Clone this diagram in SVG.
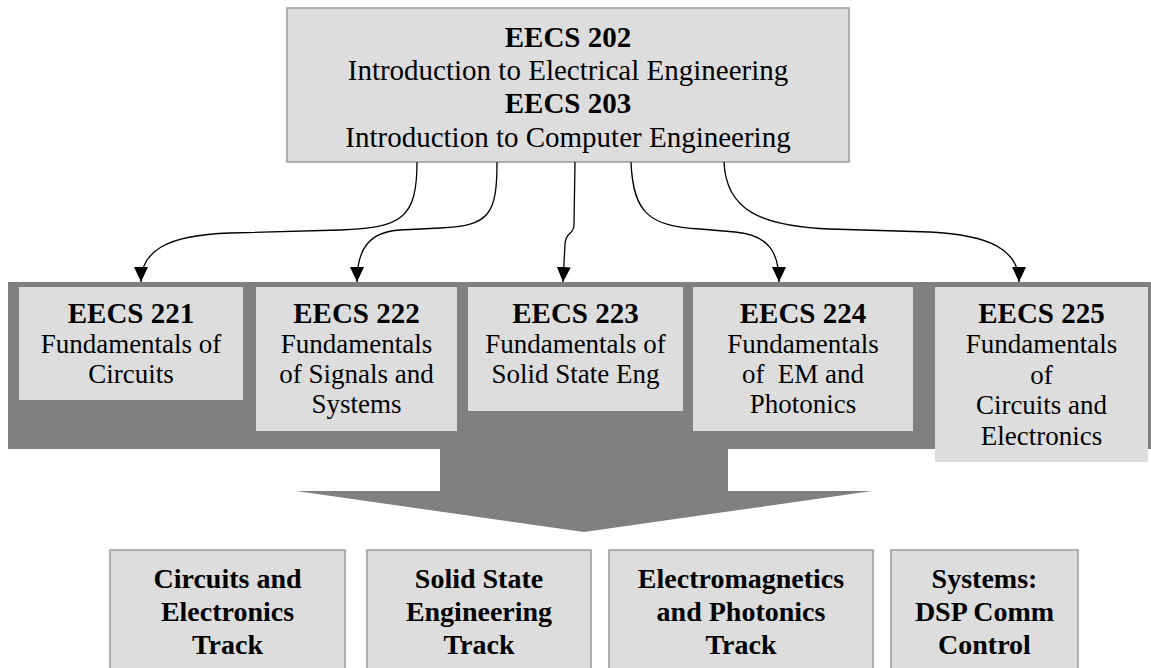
<svg xmlns="http://www.w3.org/2000/svg" width="1151" height="668" viewBox="0 0 1151 668">
<style>
  .box { fill: #dddddd; }
  .bordered { fill: #dddddd; stroke: #999999; stroke-width: 1.5; }
  .band { fill: #808080; }
  text { font-family: 'Liberation Serif', Tinos, 'Times New Roman', Times, 'DejaVu Serif', serif; fill: #000; text-anchor: middle; }
  .t { font-size: 29px; }
  .tb { font-size: 29px; font-weight: bold; }
  .s { font-size: 27px; }
  .sb { font-size: 29px; font-weight: bold; }
  .k { font-size: 28px; font-weight: bold; }
  .conn { fill: none; stroke: #000; stroke-width: 1.3; }
</style>
<defs>
  <marker id="ah" markerUnits="userSpaceOnUse" markerWidth="16" markerHeight="15" refX="15" refY="7" orient="auto">
    <path d="M0,0 L15,7 L0,14 z" fill="#000"/>
  </marker>
</defs>
<rect width="1151" height="668" fill="#ffffff"/>

<g id="band">
  <rect class="band" x="8" y="282" width="1143" height="167"/>
  <polygon class="band" points="440,448 728,448 728,491 872,491 584,532 296,491 440,491"/>
</g>

<g id="eecs202">
  <rect class="bordered" x="287" y="8" width="562" height="154"/>
  <text class="tb" x="568" y="47">EECS 202</text>
  <text class="t" x="568" y="80">Introduction to Electrical Engineering</text>
  <text class="tb" x="568" y="113">EECS 203</text>
  <text class="t" x="568" y="147">Introduction to Computer Engineering</text>
</g>

<g id="eecs221">
  <rect class="box" x="19" y="287" width="224" height="113"/>
  <text class="sb" x="131" y="323">EECS 221</text>
  <text class="s" x="131" y="353">Fundamentals of</text>
  <text class="s" x="131" y="383">Circuits</text>
</g>

<g id="eecs222">
  <rect class="box" x="256" y="287" width="201" height="144"/>
  <text class="sb" x="356.5" y="323">EECS 222</text>
  <text class="s" x="356.5" y="353">Fundamentals</text>
  <text class="s" x="356.5" y="383">of Signals and</text>
  <text class="s" x="356.5" y="413">Systems</text>
</g>

<g id="eecs223">
  <rect class="box" x="468" y="287" width="215" height="124"/>
  <text class="sb" x="575.5" y="323">EECS 223</text>
  <text class="s" x="575.5" y="353">Fundamentals of</text>
  <text class="s" x="575.5" y="383">Solid State Eng</text>
</g>

<g id="eecs224">
  <rect class="box" x="693" y="287" width="220" height="144"/>
  <text class="sb" x="803" y="323">EECS 224</text>
  <text class="s" x="803" y="353">Fundamentals</text>
  <text class="s" x="803" y="383">of&#160; EM and</text>
  <text class="s" x="803" y="413">Photonics</text>
</g>

<g id="eecs225">
  <rect class="box" x="935" y="287" width="213" height="175"/>
  <text class="sb" x="1041.5" y="323">EECS 225</text>
  <text class="s" x="1041.5" y="353">Fundamentals</text>
  <text class="s" x="1041.5" y="384">of</text>
  <text class="s" x="1041.5" y="414">Circuits and</text>
  <text class="s" x="1041.5" y="445">Electronics</text>
</g>

<g id="connectors">
  <path class="conn" marker-end="url(#ah)" d="M417,162 C417,218 402,228 340,230 L230,233 C165,235 141,252 141,282"/>
  <path class="conn" marker-end="url(#ah)" d="M497,162 C497,214 490,226 440,228 L400,230 C368,232 357,250 357,282"/>
  <path class="conn" marker-end="url(#ah)" d="M575,162 L574,224 C574,236 566,230 565,244 L563,282"/>
  <path class="conn" marker-end="url(#ah)" d="M631,162 C633,214 650,226 700,229 L735,232 C770,235 779,254 779,282"/>
  <path class="conn" marker-end="url(#ah)" d="M724,162 C726,210 760,226 830,229 L930,232 C990,235 1019,250 1019,282"/>
</g>

<g id="track-circuits">
  <rect class="bordered" x="110" y="550" width="235" height="130"/>
  <text class="k" x="227.5" y="588">Circuits and</text>
  <text class="k" x="227.5" y="621">Electronics</text>
  <text class="k" x="227.5" y="654">Track</text>
</g>

<g id="track-solid-state">
  <rect class="bordered" x="367" y="550" width="224" height="130"/>
  <text class="k" x="479" y="588">Solid State</text>
  <text class="k" x="479" y="621">Engineering</text>
  <text class="k" x="479" y="654">Track</text>
</g>

<g id="track-em">
  <rect class="bordered" x="609" y="550" width="264" height="130"/>
  <text class="k" x="741" y="588">Electromagnetics</text>
  <text class="k" x="741" y="621">and Photonics</text>
  <text class="k" x="741" y="654">Track</text>
</g>

<g id="track-systems">
  <rect class="bordered" x="891" y="550" width="187" height="130"/>
  <text class="k" x="984.5" y="588">Systems:</text>
  <text class="k" x="984.5" y="621">DSP Comm</text>
  <text class="k" x="984.5" y="654">Control</text>
</g>
</svg>
